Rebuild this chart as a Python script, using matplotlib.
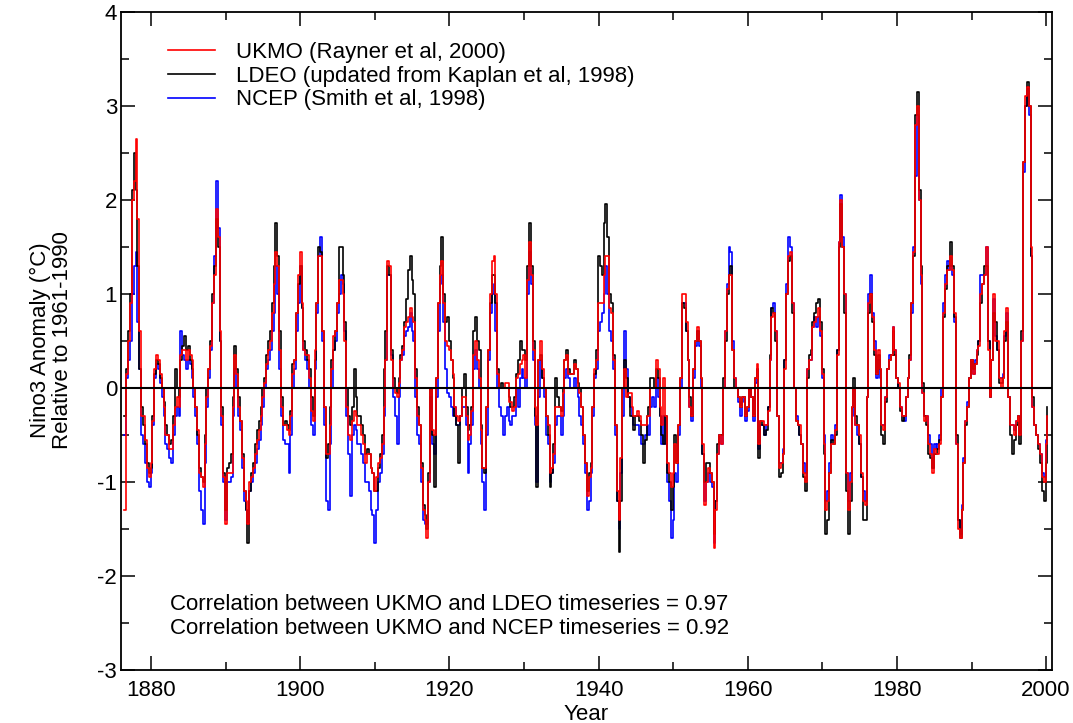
import numpy as np
import matplotlib
matplotlib.use("Agg")
import matplotlib.pyplot as plt
from matplotlib.ticker import MultipleLocator

# ---------------- data (quarterly values) ----------------
t_start = 1876.42   # first sample (decimal year)
t_step = 0.25       # quarterly sampling

ukmo = [
    -1.3,
    0.15, 0.5, 0.9, 2.0,  2.2, 2.65, 1.8, 0.6,  -0.3, -0.3, -0.55, -0.85,
    -0.95, -0.8, -0.35, 0.2,  0.35, 0.3, 0.15, 0.0,  -0.2, -0.5, -0.5, -0.65,
    -0.65, -0.4, -0.2, -0.1,  -0.2, 0.35, 0.4, 0.4,  0.3, 0.4, 0.35, 0.3,
    0.0, -0.2, -0.45, -0.9,  -0.95, -1.05, -0.6, -0.1,  0.2, 0.45, 0.9, 1.2,
    1.9, 1.6, 0.6, -0.3,  -0.95, -1.45, -0.9, -0.9,  -0.9, -0.2, 0.35, 0.15,
    -0.2, -0.35, -0.75, -1.1,  -1.2, -1.45, -1.0, -0.95,  -0.85, -0.7, -0.55, -0.45,
    -0.3, -0.1, 0.05, 0.25,  0.4, 0.5, 0.8, 1.1,  1.45, 1.3, 0.4, -0.2,
    -0.4, -0.4, -0.45, -0.5,  -0.3, 0.15, 0.3, 0.8,  1.2, 1.45, 0.9, 0.4,
    0.35, 0.35, 0.1, -0.25,  -0.35, 0.4, 0.9, 1.4,  1.4, 0.6, -0.2, -0.7,
    -0.7, -0.4, 0.2, 0.55,  0.6, 0.9, 1.15, 1.15,  1.0, 0.5, -0.2, -0.5,
    -0.55, -0.35, -0.25, -0.3,  -0.4, -0.4, -0.5, -0.6,  -0.8, -0.7, -0.7, -0.85,
    -0.9, -1.1, -0.95, -0.8,  -0.75, -0.6, -0.2, 0.3,  1.35, 1.3, 0.3, 0.0,
    -0.05, -0.1, 0.05, 0.3,  0.4, 0.65, 0.7, 0.75,  0.85, 0.75, 0.7, 0.1,
    -0.3, -0.4, -0.85, -1.3,  -1.4, -1.6, -1.0, 0.0,  -0.45, -0.5, 0.1, 0.9,
    1.2, 1.35, 0.9, 0.5,  0.45, 0.4, 0.3, 0.15,  -0.2, -0.3, -0.35, -0.3,
    -0.1, -0.1, -0.3, -0.55,  -0.5, -0.25, 0.35, 0.5,  0.3, 0.1, -0.45, -0.85,
    -0.85, -0.2, 0.4, 1.0,  1.35, 1.4, 1.0, 0.15,  0.0, 0.0, 0.0, 0.05,
    0.05, -0.15, -0.15, -0.25,  -0.2, 0.1, 0.15, 0.25,  0.3, 0.35, 0.1, 1.15,
    1.55, 1.2, 0.4, -0.2,  -0.4, 0.3, 0.5, 0.2,  0.0, -0.3, -0.4, -0.9,
    -0.85, -0.7, -0.2, -0.2,  -0.2, -0.3, -0.05, 0.3,  0.35, 0.15, 0.15, 0.15,
    0.25, 0.2, 0.0, -0.05,  -0.2, -0.5, -0.8, -1.15,  -0.95, -0.85, -0.2, 0.2,
    0.3, 0.9, 0.9, 0.9,  1.2, 1.4, 1.4, 0.85,  0.8, 0.3, -0.4, -1.1,
    -1.4, -0.75, 0.0, 0.2,  -0.1, -0.05, -0.05, -0.2,  -0.3, -0.3, -0.25, -0.3,
    -0.4, -0.4, -0.4, -0.3,  -0.3, 0.0, 0.0, 0.0,  0.3, 0.2, -0.2, -0.4,
    0.1, -0.3, -0.8, -0.9,  -1.05, -0.9, -0.6, -0.8,  -0.4, 0.1, 1.0, 1.0,
    0.7, 0.3, -0.2, -0.3,  0.2, 0.5, 0.65, 0.5,  0.1, -0.6, -1.25, -1.0,
    -0.85, -0.9, -1.0, -1.7,  -1.3, -0.7, -0.5, -0.6,  0.0, 0.6, 1.05, 1.2,
    1.2, 0.4, 0.1, 0.0,  -0.1, -0.2, -0.1, -0.1,  -0.3, -0.2, 0.0, -0.1,
    -0.3, 0.1, 0.25, -0.6,  -0.35, -0.35, -0.4, -0.4,  -0.25, 0.3, 0.75, 0.8,
    0.6, -0.3, -0.85, -0.8,  -0.7, 0.2, 1.0, 1.4,  1.45, 0.9, 0.0, -0.35,
    -0.4, -0.4, -0.6, -0.9,  -1.0, 0.2, 0.3, 0.3,  0.65, 0.7, 0.75, 0.85,
    0.6, 0.15, -0.6, -1.3,  -1.2, -0.9, -0.6, -0.6,  -0.45, 0.35, 1.55, 2.0,
    1.5, 1.0, -0.9, -1.3,  -1.0, -0.2, 0.0, -0.4,  -0.4, -0.5, -0.9, -1.2,
    -1.25, -0.1, 0.9, 1.0,  0.75, 0.4, 0.15, 0.4,  0.2, -0.4, -0.45, -0.1,
    0.2, 0.3, 0.35, 0.65,  0.4, 0.1, 0.05, -0.2,  -0.3, -0.3, -0.1, 0.1,
    0.3, 0.9, 1.45, 2.8,  3.0, 2.0, 1.2, -0.05,  -0.35, -0.3, -0.6, -0.7,
    -0.9, -0.65, -0.7, -0.7,  -0.6, -0.1, 0.8, 1.1,  1.25, 1.25, 1.4, 1.25,
    0.8, -0.6, -1.5, -1.6,  -1.3, -0.8, -0.35, -0.2,  0.1, 0.3, 0.15, 0.25,
    0.4, 0.45, 1.0, 1.1,  1.2, 1.5, 0.4, -0.1,  0.3, 1.0, 0.5, 0.5,
    0.1, 0.0, 0.1, 0.6,  0.85, -0.1, -0.4, -0.4,  -0.5, -0.35, -0.3, -0.5,
    0.5, 2.4, 3.1, 3.2,  3.0, 1.5, -0.2, -0.4,  -0.5, -0.6, -0.7, -0.95,
    -1.0, -0.6, -0.3,
]

ldeo = [
    -0.3,
    0.2, 0.6, 1.0, 2.1,  2.5, 2.1, 1.3, 0.2,  -0.2, -0.4, -0.6, -0.8,
    -0.9, -0.85, -0.3, 0.15,  0.3, 0.25, 0.1, 0.0,  -0.15, -0.4, -0.5, -0.6,
    -0.55, -0.3, 0.2, 0.0,  -0.1, 0.3, 0.45, 0.55,  0.4, 0.45, 0.3, 0.2,
    0.0, -0.2, -0.5, -0.85,  -0.95, -1.0, -0.5, 0.0,  0.2, 0.5, 1.0, 1.3,
    1.8, 1.5, 0.5, -0.2,  -0.9, -1.3, -0.85, -0.8,  -0.7, -0.1, 0.45, 0.2,
    -0.1, -0.35, -0.7, -1.1,  -1.3, -1.65, -1.1, -0.9,  -0.8, -0.6, -0.45, -0.35,
    -0.2, 0.0, 0.1, 0.35,  0.5, 0.6, 0.9, 1.3,  1.75, 1.4, 0.6, -0.1,
    -0.4, -0.35, -0.4, -0.45,  -0.25, 0.25, 0.3, 0.8,  1.1, 1.3, 0.85, 0.5,
    0.4, 0.3, 0.2, -0.1,  -0.3, 0.3, 0.9, 1.5,  1.45, 0.6, -0.2, -0.75,
    -0.6, -0.2, 0.3, 0.4,  0.6, 0.9, 1.5, 1.5,  1.2, 0.7, 0.0, -0.3,
    -0.4, -0.2, 0.2, -0.1,  -0.3, -0.3, -0.4, -0.5,  -0.7, -0.65, -0.7, -0.85,
    -0.9, -1.1, -1.1, -0.85,  -0.7, -0.5, 0.2, 0.6,  1.3, 1.2, 0.4, 0.1,
    0.0, -0.05, 0.1, 0.35,  0.45, 0.7, 0.95, 1.25,  1.4, 1.15, 1.0, 0.2,
    -0.2, -0.4, -0.8, -1.25,  -1.35, -1.5, -0.9, 0.0,  -0.5, -1.05, 0.1, 0.9,
    1.3, 1.6, 1.0, 0.7,  0.75, 0.5, 0.3, 0.1,  -0.3, -0.4, -0.8, -0.3,
    0.0, 0.15, -0.2, -0.45,  -0.4, -0.2, 0.6, 0.75,  0.5, 0.4, -0.4, -0.85,
    -0.9, -0.2, 0.4, 0.9,  1.2, 1.2, 0.9, 0.2,  0.0, 0.05, 0.0, 0.0,
    0.0, -0.1, -0.2, -0.2,  -0.1, 0.15, 0.3, 0.5,  0.4, 0.4, 0.3, 1.3,
    1.75, 1.3, 0.5, -0.3,  -1.05, 0.3, 0.35, 0.1,  0.0, -0.3, -0.5, -1.05,
    -0.9, -0.6, 0.1, -0.1,  -0.2, -0.25, 0.0, 0.3,  0.4, 0.2, 0.15, 0.15,
    0.3, 0.2, 0.05, 0.0,  -0.2, -0.5, -0.8, -1.1,  -0.9, -0.8, -0.2, 0.15,
    0.4, 1.4, 1.3, 1.2,  1.75, 1.95, 1.6, 1.0,  0.9, 0.35, -0.4, -1.2,
    -1.75, -1.2, 0.0, 0.3,  0.1, -0.1, -0.3, -0.3,  -0.45, -0.3, -0.3, -0.35,
    -0.5, -0.8, -0.55, -0.3,  -0.2, 0.1, 0.1, 0.0,  0.2, 0.1, -0.3, -0.5,
    -0.6, -0.3, -0.9, -1.0,  -1.3, -1.05, -0.5, -0.8,  -0.4, 0.1, 0.9, 0.85,
    0.6, 0.3, -0.1, -0.3,  0.2, 0.5, 0.6, 0.5,  0.1, -0.7, -1.0, -0.8,
    -0.8, -0.9, -1.0, -1.55,  -1.2, -0.6, -0.5, -0.5,  0.1, 0.5, 1.0, 1.2,
    1.3, 0.4, 0.0, 0.0,  -0.1, -0.2, -0.1, -0.1,  -0.3, -0.2, 0.0, -0.1,
    -0.3, 0.1, 0.2, -0.75,  -0.35, -0.4, -0.5, -0.45,  -0.2, 0.35, 0.85, 0.8,
    0.5, -0.3, -0.95, -0.9,  -0.7, 0.3, 1.0, 1.35,  1.4, 0.8, 0.0, -0.35,
    -0.4, -0.5, -0.6, -0.95,  -1.1, 0.1, 0.35, 0.4,  0.7, 0.8, 0.9, 0.95,
    0.7, 0.2, -0.7, -1.55,  -1.4, -0.9, -0.55, -0.6,  -0.5, 0.4, 1.5, 1.95,
    1.5, 0.8, -1.1, -1.55,  -1.2, -0.2, 0.1, -0.3,  -0.4, -0.6, -0.95, -1.4,
    -1.4, -0.1, 0.8, 1.0,  0.7, 0.35, 0.15, 0.35,  0.2, -0.5, -0.6, -0.15,
    0.2, 0.3, 0.35, 0.6,  0.35, 0.1, 0.0, -0.25,  -0.35, -0.3, -0.1, 0.1,
    0.35, 0.9, 1.4, 2.9,  3.15, 2.1, 1.3, 0.05,  -0.3, -0.4, -0.7, -0.75,
    -0.85, -0.7, -0.7, -0.65,  -0.55, -0.1, 0.75, 1.05,  1.3, 1.3, 1.55, 1.3,
    0.75, -0.5, -1.4, -1.6,  -1.3, -0.8, -0.4, -0.2,  0.1, 0.3, 0.2, 0.25,
    0.35, 0.5, 0.9, 1.1,  1.3, 1.3, 0.5, -0.1,  0.3, 0.8, 0.7, 0.4,
    0.05, 0.05, 0.1, 0.5,  0.7, -0.1, -0.5, -0.7,  -0.55, -0.4, -0.3, -0.6,
    0.6, 2.4, 3.0, 3.25,  3.0, 1.4, -0.1, -0.4,  -0.5, -0.65, -0.8, -1.1,
    -1.2, -0.8, -0.2,
]

ncep = [
    -0.5,
    0.1, 0.3, 0.5, 1.0,  1.3, 1.45, 0.7, 0.2,  -0.5, -0.6, -0.8, -1.0,
    -1.05, -0.9, -0.4, 0.1,  0.25, 0.2, 0.05, -0.1,  -0.3, -0.6, -0.65, -0.75,
    -0.8, -0.5, -0.3, -0.2,  -0.3, 0.6, 0.35, 0.3,  0.2, 0.3, 0.25, 0.1,
    -0.1, -0.3, -0.6, -1.1,  -1.3, -1.45, -0.8, -0.2,  0.1, 0.4, 0.9, 1.4,
    2.2, 1.7, 0.5, -0.4,  -1.0, -1.4, -1.0, -1.0,  -0.95, -0.3, 0.2, 0.0,
    -0.3, -0.45, -0.85, -1.2,  -1.3, -1.45, -1.1, -1.0,  -0.9, -0.8, -0.65, -0.55,
    -0.4, -0.2, 0.0, 0.2,  0.3, 0.4, 0.6, 0.8,  1.3, 1.0, 0.2, -0.3,
    -0.55, -0.6, -0.6, -0.9,  -0.5, 0.0, 0.2, 0.6,  0.9, 1.3, 0.85, 0.4,
    0.3, 0.2, 0.0, -0.4,  -0.5, 0.2, 0.8, 1.4,  1.6, 0.5, -0.4, -1.2,
    -1.3, -0.6, 0.0, 0.4,  0.5, 0.8, 1.0, 1.2,  1.1, 0.6, -0.3, -0.7,
    -1.15, -0.5, -0.4, -0.45,  -0.6, -0.6, -0.7, -0.8,  -1.0, -1.0, -1.1, -1.3,
    -1.35, -1.65, -1.3, -1.0,  -0.9, -0.7, -0.3, 0.3,  1.2, 1.2, 0.35, -0.1,
    -0.3, -0.6, -0.1, 0.3,  0.35, 0.55, 0.6, 0.65,  0.8, 0.6, 0.5, -0.1,
    -0.5, -0.6, -1.0, -1.4,  -1.45, -1.45, -1.0, -0.1,  -0.6, -0.7, -0.1, 0.6,
    1.1, 1.2, 0.7, 0.2,  -0.05, -0.1, -0.2, -0.3,  -0.2, -0.4, -0.4, -0.3,
    -0.2, -0.2, -0.4, -0.9,  -0.6, -0.4, 0.2, 0.4,  0.2, 0.0, -0.6, -1.0,
    -1.3, -0.5, 0.3, 0.8,  1.0, 1.1, 0.6, 0.0,  -0.2, -0.3, -0.5, -0.3,
    -0.2, -0.35, -0.4, -0.3,  -0.3, 0.0, -0.2, 0.1,  0.2, 0.1, 0.0, 1.0,
    1.45, 1.1, 0.3, -0.4,  -1.0, -0.1, 0.3, 0.1,  -0.1, -0.5, -0.6, -1.0,
    -0.9, -0.8, -0.4, -0.3,  -0.3, -0.5, -0.3, 0.1,  0.2, 0.1, 0.0, 0.0,
    0.1, 0.0, -0.1, -0.3,  -0.4, -0.6, -0.9, -1.3,  -1.2, -0.9, -0.3, 0.1,
    0.2, 0.6, 0.7, 0.8,  1.0, 1.3, 1.0, 0.6,  0.5, 0.2, -0.5, -1.2,
    -1.5, -0.9, -0.3, 0.6,  0.2, -0.1, -0.2, -0.3,  -0.4, -0.4, -0.4, -0.5,
    -0.6, -0.6, -0.5, -0.4,  -0.5, -0.2, -0.1, -0.2,  0.1, -0.1, -0.3, -0.6,
    -0.3, -0.6, -1.0, -1.2,  -1.6, -1.4, -0.9, -1.0,  -0.5, 0.0, 0.9, 0.9,
    0.6, 0.3, -0.2, -0.35,  0.1, 0.45, 0.6, 0.45,  0.0, -0.7, -1.2, -1.0,
    -0.9, -1.0, -1.05, -1.65,  -1.2, -0.7, -0.5, -0.6,  0.0, 0.6, 1.1, 1.5,
    1.45, 0.5, 0.1, 0.0,  -0.15, -0.3, -0.15, -0.1,  -0.35, -0.25, 0.0, -0.1,
    -0.35, 0.05, 0.2, -0.65,  -0.4, -0.4, -0.5, -0.4,  -0.2, 0.3, 0.85, 0.9,
    0.6, -0.3, -0.8, -0.8,  -0.65, 0.3, 1.1, 1.6,  1.5, 0.9, 0.0, -0.3,
    -0.4, -0.5, -0.6, -0.8,  -0.9, 0.2, 0.3, 0.3,  0.65, 0.75, 0.65, 0.75,
    0.55, 0.1, -0.5, -1.2,  -1.1, -0.8, -0.5, -0.55,  -0.4, 0.4, 1.55, 2.05,
    1.6, 1.0, -0.9, -1.2,  -0.9, -0.3, 0.0, -0.4,  -0.5, -0.6, -0.95, -1.1,
    -1.2, -0.1, 1.0, 1.2,  0.8, 0.5, 0.1, 0.3,  0.1, -0.4, -0.4, -0.1,
    0.2, 0.35, 0.35, 0.65,  0.4, 0.1, 0.0, -0.2,  -0.3, -0.35, -0.1, 0.1,
    0.3, 0.8, 1.5, 2.25,  2.9, 2.0, 1.1, -0.05,  -0.3, -0.3, -0.5, -0.6,
    -0.85, -0.6, -0.65, -0.6,  -0.5, 0.0, 0.9, 1.2,  1.35, 1.25, 1.3, 1.2,
    0.7, -0.6, -1.4, -1.55,  -1.25, -0.75, -0.35, -0.15,  0.1, 0.3, 0.15, 0.3,
    0.4, 0.5, 1.2, 1.2,  1.2, 1.5, 0.5, -0.1,  0.3, 0.95, 0.55, 0.4,
    0.1, 0.1, 0.15, 0.55,  0.8, -0.1, -0.4, -0.4,  -0.45, -0.35, -0.3, -0.5,
    0.5, 2.3, 3.0, 3.2,  2.9, 1.4, -0.2, -0.4,  -0.5, -0.6, -0.7, -0.9,
    -0.95, -0.55, -0.3,
]

legend_labels = ["UKMO (Rayner et al, 2000)",
                 "LDEO (updated from Kaplan et al, 1998)",
                 "NCEP (Smith et al, 1998)"]
corr_lines = ["Correlation between UKMO and LDEO timeseries = 0.97",
              "Correlation between UKMO and NCEP timeseries = 0.92"]
x_ticks = [1880, 1900, 1920, 1940, 1960, 1980, 2000]
y_ticks = [-3, -2, -1, 0, 1, 2, 3, 4]

# ---------------- figure ----------------
plt.rcParams['font.family'] = ['Liberation Sans', 'DejaVu Sans']
plt.rcParams['axes.unicode_minus'] = False
FS = 16

W, H = 1073, 723
fig = plt.figure(figsize=(W / 100, H / 100), dpi=100)
L, R, T, B = 121.3, 1051.7, 11.7, 670.0
ax = fig.add_axes([L / W, 1 - B / H, (R - L) / W, (B - T) / H])

def times(n):
    return t_start + t_step * np.arange(n)

l_ncep, = ax.plot(times(len(ncep)), ncep, drawstyle='steps-post', color='#0000ff', lw=1.2)
l_ldeo, = ax.plot(times(len(ldeo)), ldeo, drawstyle='steps-post', color='black', lw=1.2)
l_ukmo, = ax.plot(times(len(ukmo)), ukmo, drawstyle='steps-post', color='#ff0000', lw=1.2)
ax.axhline(0, color='black', lw=1.5, zorder=5)

ax.set_xlim(1876, 2000.75)
ax.set_ylim(-3, 4)
ax.set_xticks(x_ticks)
ax.set_yticks(y_ticks)
ax.xaxis.set_minor_locator(MultipleLocator(10))
ax.yaxis.set_minor_locator(MultipleLocator(0.5))
ax.tick_params(which='both', direction='in', top=True, right=True, width=1.1,
               labelsize=FS, colors='black')
ax.tick_params(which='major', length=10)
ax.tick_params(which='minor', length=5.5)
ax.tick_params(axis='x', which='major', pad=7)
ax.tick_params(axis='y', which='major', pad=3)
for s in ax.spines.values():
    s.set_linewidth(1.3)

ax.set_xlabel("Year", fontsize=FS, labelpad=2)
fig.text(40 / W, 1 - 340 / H, "Nino3 Anomaly (°C)", rotation=90,
         ha='center', va='center', fontsize=FS)
fig.text(63 / W, 1 - 340 / H, "Relative to 1961-1990", rotation=90,
         ha='center', va='center', fontsize=FS)

leg = fig.legend([l_ukmo, l_ldeo, l_ncep], legend_labels,
                 loc='upper left', bbox_to_anchor=(168 / W, 1 - 42 / H),
                 frameon=False, fontsize=FS, handlelength=2.1,
                 handletextpad=0.95, labelspacing=0.12, borderpad=0,
                 borderaxespad=0)

fig.text(170 / W, 1 - 604 / H, corr_lines[0], ha='left', va='center', fontsize=FS)
fig.text(170 / W, 1 - 629 / H, corr_lines[1], ha='left', va='center', fontsize=FS)

fig.savefig("out.png", dpi=100)
